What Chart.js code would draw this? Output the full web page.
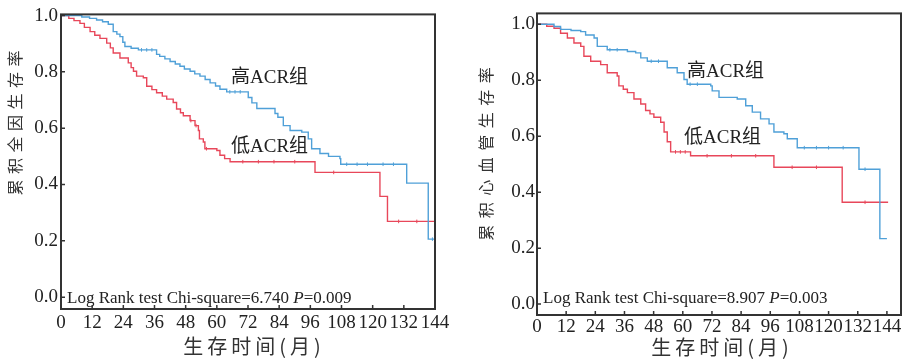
<!DOCTYPE html>
<html>
<head>
<meta charset="utf-8">
<script src="https://cdn.jsdelivr.net/npm/chart.js@4"></script>
<style>
  body { margin: 0; background: #fff; }
  #wrap { position: relative; width: 908px; height: 362px; }
  canvas { position: absolute; top: 0; }
</style>
</head>
<body>
<div id="wrap">
  <canvas id="allCause" width="454" height="362" style="left:0"></canvas>
  <canvas id="cardio" width="454" height="362" style="left:454px"></canvas>
</div>
<script>
// tick values
const xTicks = [0, 12, 24, 36, 48, 60, 72, 84, 96, 108, 120, 132, 144];
const yTicks = [0, 0.2, 0.4, 0.6, 0.8, 1.0];

// all-cause survival, high ACR group (time in months, survival after the step)
const allHighT = [0, 8, 11, 13.7, 16, 18.2, 20.1, 21.5, 22.7, 23.8, 24.6, 27, 29.8, 36.8, 38, 40, 42, 44, 45.8, 47.5, 49.7, 51.5, 53.5, 55.5, 57.4, 59.5, 61.2, 63.8, 72.1, 73.5, 75.4, 82.4, 83.5, 85.6, 88.2, 92.7, 95.2, 96.5, 99.7, 103, 107.4, 107.7, 133.1, 141.4, 144];
const allHighS = [1.0, 0.995, 0.99, 0.984, 0.978, 0.969, 0.943, 0.934, 0.925, 0.905, 0.89, 0.884, 0.878, 0.862, 0.855, 0.846, 0.837, 0.828, 0.82, 0.81, 0.802, 0.793, 0.785, 0.773, 0.761, 0.75, 0.738, 0.729, 0.709, 0.69, 0.67, 0.652, 0.639, 0.609, 0.592, 0.586, 0.562, 0.527, 0.51, 0.5, 0.492, 0.472, 0.405, 0.206, 0.206];
const allHighCensor = [31, 33, 35, 65, 67, 69, 110, 114, 118, 124, 128, 143];

// all-cause survival, low ACR group
const allLowT = [0, 3, 5, 7.3, 9, 11.2, 13, 15, 17.6, 19, 20.1, 22.7, 25.9, 27, 27.9, 29.1, 31.7, 33, 35, 36.8, 39, 40.7, 43.2, 44.5, 46, 47.1, 49.7, 51.6, 52.9, 53.3, 54.8, 55.4, 60, 61.2, 63, 65.1, 97.8, 122.8, 125.7, 144];
const allLowS = [1.0, 0.99, 0.982, 0.972, 0.958, 0.943, 0.93, 0.919, 0.902, 0.885, 0.867, 0.849, 0.832, 0.815, 0.802, 0.785, 0.779, 0.749, 0.737, 0.726, 0.714, 0.703, 0.691, 0.668, 0.655, 0.644, 0.627, 0.609, 0.592, 0.562, 0.551, 0.527, 0.521, 0.504, 0.492, 0.481, 0.443, 0.358, 0.269, 0.269];
const allLowCensor = [50, 52, 56, 70, 76, 82, 90, 105, 130, 137];

// cardiovascular survival, high ACR group
const cvHighT = [0, 7, 9.7, 14, 18, 20, 23.5, 24.8, 28.9, 37.2, 40.6, 42.7, 45.4, 53.6, 57.7, 60.5, 61.8, 71.5, 72.1, 74.9, 82.4, 85.9, 88.6, 92, 95.5, 97.5, 101.6, 103, 107.1, 132.5, 141.1, 144];
const cvHighS = [1.0, 0.992, 0.982, 0.978, 0.974, 0.962, 0.951, 0.921, 0.909, 0.903, 0.898, 0.88, 0.868, 0.845, 0.827, 0.803, 0.786, 0.78, 0.762, 0.739, 0.733, 0.709, 0.686, 0.662, 0.644, 0.615, 0.609, 0.591, 0.559, 0.482, 0.234, 0.234];
const cvHighCensor = [30, 33, 47, 50, 63, 66, 110, 115, 120, 126, 135];

// cardiovascular survival, low ACR group
const cvLowT = [0, 4, 7, 9.7, 12.5, 15.2, 18, 19.3, 22.1, 26.2, 28.9, 33, 33.7, 35.5, 37.2, 39.9, 42.7, 44.7, 46.5, 48.1, 50.9, 52.3, 53.6, 55, 63.2, 97.5, 125.6, 144.5];
const cvLowS = [1.0, 0.993, 0.986, 0.968, 0.951, 0.933, 0.921, 0.886, 0.868, 0.856, 0.827, 0.815, 0.78, 0.768, 0.756, 0.733, 0.715, 0.692, 0.68, 0.668, 0.65, 0.615, 0.58, 0.544, 0.53, 0.489, 0.364, 0.364];
const cvLowCensor = [57, 59, 61, 70, 80, 90, 105, 115, 135];

const BLUE = '#4fa0d8';
const RED = '#e8475a';
const INK = '#222';
const SERIF = "'Liberation Serif', 'Noto Sans CJK SC'";

function toPoints(ts, ss){
  return ts.map(function(t, i){ return {x: t, y: ss[i]}; });
}

// survival value on the step curve at censor time t
function censorPoints(ts, ss, censor){
  return censor.map(function(c){
    let s = ss[0];
    for (let i = 0; i < ts.length; i++) { if (ts[i] <= c) s = ss[i]; }
    return {x: c, y: s};
  });
}

function curve(ts, ss, color){
  return {
    data: toPoints(ts, ss), stepped: true, borderColor: color, borderWidth: 1.4,
    pointRadius: 0, fill: false
  };
}

function marks(ts, ss, censor, color){
  return {
    data: censorPoints(ts, ss, censor), showLine: false, borderColor: color,
    pointStyle: 'line', rotation: 90, pointRadius: 1.8, borderWidth: 1
  };
}

// draw text with extra gap between characters, centered on x
function spaced(ctx, text, x, y, gap){
  let chars = Array.from(text);
  let widths = chars.map(function(c){ return ctx.measureText(c).width; });
  let total = widths.reduce(function(a, b){ return a + b; }, 0) + gap * (chars.length - 1);
  let cx = x - total / 2;
  ctx.textAlign = 'left';
  chars.forEach(function(c, i){
    ctx.fillText(c, cx, y);
    cx += widths[i] + gap;
  });
}

function framePlugin(cfg){
  return {
    id: 'frame',
    afterDraw: function(chart){
      let ctx = chart.ctx;
      let a = chart.chartArea;
      let xs = chart.scales.x, ys = chart.scales.y;
      ctx.save();
      // box round the plot
      ctx.strokeStyle = '#333';
      ctx.lineWidth = 2;
      ctx.strokeRect(a.left, a.top, a.right - a.left, a.bottom - a.top);
      // inward ticks
      ctx.lineWidth = 1.5;
      ctx.beginPath();
      xTicks.forEach(function(t){
        let px = xs.getPixelForValue(t);
        ctx.moveTo(px, a.bottom); ctx.lineTo(px, a.bottom - 4);
      });
      yTicks.forEach(function(v){
        let py = ys.getPixelForValue(v);
        ctx.moveTo(a.left, py); ctx.lineTo(a.left + 4, py);
      });
      ctx.stroke();

      ctx.fillStyle = INK;
      ctx.textBaseline = 'middle';
      // group labels
      ctx.font = '19px ' + SERIF;
      ctx.textAlign = 'left';
      ctx.fillText('高ACR组', cfg.high[0], cfg.high[1]);
      ctx.fillText('低ACR组', cfg.low[0], cfg.low[1]);

      // log rank note
      ctx.textBaseline = 'alphabetic';
      ctx.font = "17px 'Liberation Serif'";
      let x = cfg.note[0], y = cfg.note[1];
      let first = 'Log Rank test Chi-square=' + cfg.chi + ' ';
      ctx.fillText(first, x, y);
      x += ctx.measureText(first).width;
      ctx.font = "italic 17px 'Liberation Serif'";
      ctx.fillText('P', x, y);
      x += ctx.measureText('P').width;
      ctx.font = "17px 'Liberation Serif'";
      ctx.fillText('=' + cfg.p, x, y);

      // axis titles
      ctx.textBaseline = 'middle';
      ctx.font = "20px 'Noto Sans CJK SC'";
      ctx.fillStyle = '#333';
      spaced(ctx, '生存时间(月)', cfg.xTitle[0], cfg.xTitle[1], 4);
      ctx.translate(cfg.yTitle[0], cfg.yTitle[1]);
      ctx.rotate(-Math.PI / 2);
      ctx.font = "16px 'Noto Sans CJK SC'";
      spaced(ctx, cfg.yText, 0, 0, cfg.yGap);
      ctx.restore();
    }
  };
}

function makeChart(id, datasets, box, cfg){
  return new Chart(document.getElementById(id), {
    type: 'line',
    data: { datasets: datasets },
    plugins: [framePlugin(cfg)],
    options: {
      responsive: false,
      animation: false,
      devicePixelRatio: 1,
      layout: { padding: { top: box.top, right: box.right, left: 0, bottom: 0 } },
      plugins: { legend: { display: false }, tooltip: { enabled: false } },
      scales: {
        x: {
          type: 'linear', min: 0, max: box.xMax,
          grid: { display: false, drawTicks: false }, border: { display: false },
          afterBuildTicks: function(s){ s.ticks = xTicks.map(function(v){ return {value: v}; }); },
          afterFit: function(s){ s.height = box.xHeight; },
          ticks: { color: INK, padding: box.xPad, maxRotation: 0, autoSkip: false, font: { family: 'Liberation Serif', size: 19 } }
        },
        y: {
          type: 'linear', min: box.yMin, max: box.yMax,
          grid: { display: false, drawTicks: false }, border: { display: false },
          afterBuildTicks: function(s){ s.ticks = yTicks.map(function(v){ return {value: v}; }); },
          afterFit: function(s){ s.width = box.yWidth; },
          ticks: { color: INK, padding: box.yPad, font: { family: 'Liberation Serif', size: 19 },
            callback: function(v){ return Number(v).toFixed(1); } }
        }
      }
    }
  });
}

makeChart('allCause', [
  curve(allHighT, allHighS, BLUE), curve(allLowT, allLowS, RED),
  marks(allHighT, allHighS, allHighCensor, BLUE), marks(allLowT, allLowS, allLowCensor, RED)
], { top: 11, right: 19, xHeight: 53, yWidth: 61, xMax: 144, yMin: -0.042, yMax: 1.004, xPad: 3, yPad: 3 }, {
  high: [231, 78], low: [231, 147], note: [67, 303], chi: '6.740', p: '0.009',
  xTitle: [252, 346], yTitle: [15, 123], yText: '累积全因生存率', yGap: 5.5
});

makeChart('cardio', [
  curve(cvHighT, cvHighS, BLUE), curve(cvLowT, cvLowS, RED),
  marks(cvHighT, cvHighS, cvHighCensor, BLUE), marks(cvLowT, cvLowS, cvLowCensor, RED)
], { top: 10, right: 7, xHeight: 47, yWidth: 83, xMax: 149.8, yMin: -0.039, yMax: 1.039, xPad: 1, yPad: 2 }, {
  high: [233, 72], low: [230, 138], note: [89, 303], chi: '8.907', p: '0.003',
  xTitle: [266, 347], yTitle: [32, 154], yText: '累积心血管生存率', yGap: 6.5
});
</script>
</body>
</html>
